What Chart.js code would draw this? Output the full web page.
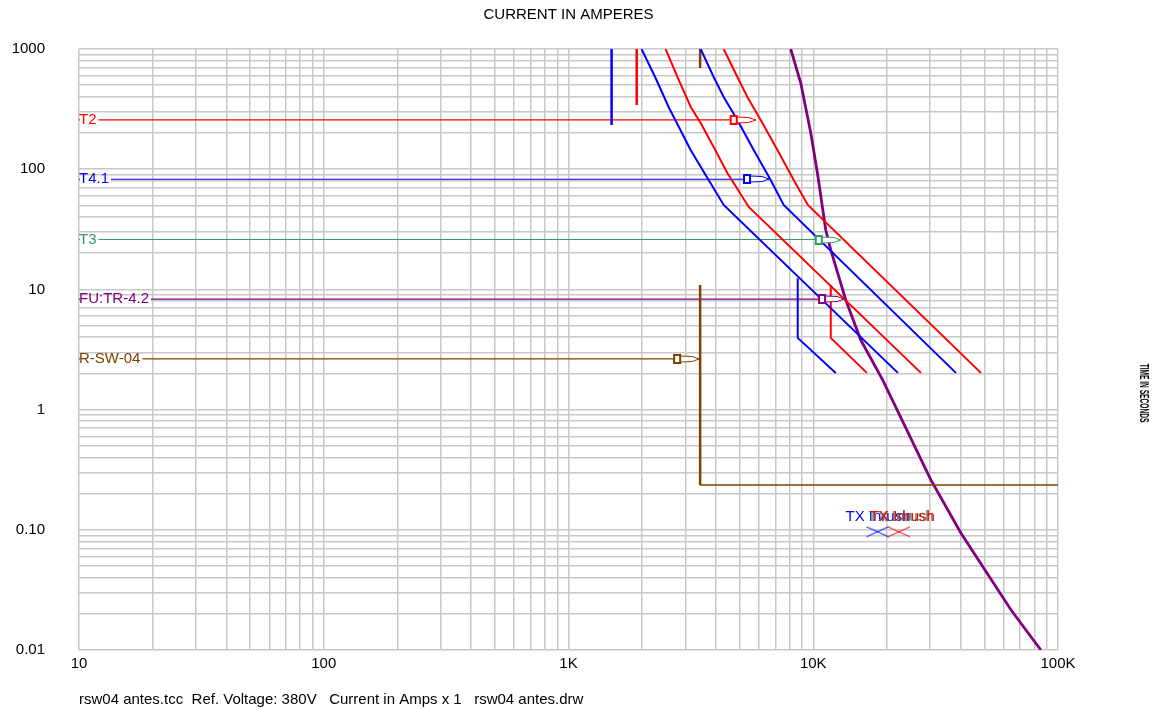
<!DOCTYPE html>
<html>
<head>
<meta charset="utf-8">
<script src="https://cdn.jsdelivr.net/npm/chart.js@4.4.1/dist/chart.umd.min.js"></script>
<style>
  body { margin: 0; background: #fff; }
</style>
</head>
<body>
<canvas id="tcc" width="1155" height="710"></canvas>
<script>
// axis ticks
const xTickVals = [10, 100, 1000, 10000, 100000];
const xTickLabels = ['10', '100', '1K', '10K', '100K'];
const yTickVals = [0.01, 0.1, 1, 10, 100, 1000];
const yTickLabels = ['0.01', '0.10', '1', '10', '100', '1000'];

// device curves: current (A) / time (s)
const b1Amps = [1989, 2269, 2565, 3155, 3845, 4305, 22170];
const b1Secs = [1000, 574, 329, 144.5, 73.9, 50.4, 2.02];
const r1Amps = [2493, 2783, 3155, 3467, 3918, 4457, 5450, 27540];
const r1Secs = [1000, 588, 331, 242, 153, 93, 48.5, 2.02];
const b2Amps = [3467, 3918, 4305, 4898, 5711, 6700, 7570, 38270];
const b2Secs = [1000, 585, 399, 257, 144.5, 81.3, 50.4, 2.02];
const r2Amps = [4305, 4898, 5380, 6100, 7140, 8320, 9500, 48420];
const r2Secs = [1000, 585, 399, 257, 144.5, 81.3, 50.4, 2.02];
const bInstAmps = [8640, 8640, 12360];
const bInstSecs = [12.4, 3.95, 2.02];
const rInstAmps = [11790, 11790, 16560];
const rInstSecs = [10.9, 3.95, 2.02];
const bTopAmps = [1500, 1500];
const bTopSecs = [1000, 233];
const rTopAmps = [1900, 1900];
const rTopSecs = [1000, 342];
const swTopAmps = [3450, 3450];
const swTopSecs = [1000, 695];
const swVertAmps = [3450, 3450];
const swVertSecs = [10.9, 0.236];
const swHorzAmps = [3450, 100000];
const swHorzSecs = [0.236, 0.236];
const fuseAmps = [8090, 8890, 9770, 10400, 11250, 11790, 13580, 15640, 19230, 30240, 40100, 64300, 85100];
const fuseSecs = [1000, 521, 200, 93, 31.2, 21.3, 8.17, 3.79, 1.76, 0.26, 0.094, 0.0215, 0.01];

// device labels with arrow tip
const labelNames = ['T2', 'T4.1', 'T3', 'FU:TR-4.2', 'R-SW-04'];
const labelSecs = [257, 82.5, 26, 8.3, 2.64];
const labelTipAmps = [5820, 6595, 12960, 13365, 3418];
const labelColors = ['#ff0000', '#0000ff', '#339966', '#800080', '#804000'];

// transformer inrush points
const inrushAmps = [18300, 22380];
const inrushSecs = [0.0964, 0.0964];

const FONT = '"Liberation Sans", Arial, sans-serif';

function pts(xs, ys) {
    return xs.map((x, i) => ({ x: x, y: ys[i] }));
}

function line(xs, ys, color, width) {
    return {
        data: pts(xs, ys),
        borderColor: color,
        borderWidth: width,
        pointRadius: 0,
        fill: false,
        tension: 0
    };
}

function makeX(color) {
    let c = document.createElement('canvas');
    c.width = 24; c.height = 12;
    let g = c.getContext('2d');
    g.strokeStyle = color;
    g.lineWidth = 1;
    g.beginPath();
    g.moveTo(1, 1); g.lineTo(23, 11);
    g.moveTo(1, 11); g.lineTo(23, 1);
    g.stroke();
    return c;
}

function gridTicks(min, max) {
    let out = [];
    for (let d = min; d < max; d *= 10) {
        for (let m = 1; m < 10; m++) out.push({ value: +(d * m).toPrecision(6) });
    }
    out.push({ value: max });
    return out;
}

function tickLabel(v, vals, labels) {
    for (let i = 0; i < vals.length; i++) {
        if (Math.abs(Math.log10(v) - Math.log10(vals[i])) < 1e-6) return labels[i];
    }
    return '';
}

let datasets = [
    line(b1Amps, b1Secs, '#0000ff', 2),
    line(r1Amps, r1Secs, '#ff0000', 2),
    line(b2Amps, b2Secs, '#0000ff', 2),
    line(r2Amps, r2Secs, '#ff0000', 2),
    line(bInstAmps, bInstSecs, '#0000ff', 2),
    line(rInstAmps, rInstSecs, '#ff0000', 2),
    line(bTopAmps, bTopSecs, '#0000ff', 2.5),
    line(rTopAmps, rTopSecs, '#ff0000', 2.5),
    line(swTopAmps, swTopSecs, '#804000', 2.5),
    line(swVertAmps, swVertSecs, '#804000', 2.5),
    line(swHorzAmps, swHorzSecs, '#804000', 1.3),
    line(fuseAmps, fuseSecs, '#800080', 2.8)
];
labelNames.forEach((n, i) => {
    datasets.push(line([10, labelTipAmps[i]], [labelSecs[i], labelSecs[i]], labelColors[i], 1.2));
});
datasets.push({ data: pts([inrushAmps[0]], [inrushSecs[0]]), showLine: false, pointStyle: makeX('#0000ff'), pointRadius: 10 });
datasets.push({ data: pts([inrushAmps[1]], [inrushSecs[1]]), showLine: false, pointStyle: makeX('#ff0000'), pointRadius: 10 });

const overlay = {
    id: 'overlay',
    afterDatasetsDraw(chart) {
        const ctx = chart.ctx, xs = chart.scales.x, ys = chart.scales.y;
        const area = chart.chartArea;
        ctx.save();
        labelNames.forEach((name, i) => {
            let tip = xs.getPixelForValue(labelTipAmps[i]);
            let y = Math.round(ys.getPixelForValue(labelSecs[i]));
            let x0 = tip - 25;
            ctx.strokeStyle = labelColors[i];
            ctx.fillStyle = '#fff';
            ctx.lineWidth = 1;
            ctx.beginPath();
            ctx.moveTo(x0 + 6, y - 3);
            ctx.lineTo(x0 + 18, y - 2.5);
            ctx.lineTo(tip, y);
            ctx.lineTo(x0 + 18, y + 2.5);
            ctx.lineTo(x0 + 6, y + 3);
            ctx.closePath();
            ctx.fill();
            ctx.stroke();
            ctx.lineWidth = 2;
            ctx.fillRect(x0, y - 4, 6, 8);
            ctx.strokeRect(x0, y - 4, 6, 8);

            ctx.font = '15px ' + FONT;
            let w = ctx.measureText(name).width;
            ctx.fillStyle = '#fff';
            ctx.fillRect(area.left + 1, y - 3, w + 1, 6);
            ctx.fillStyle = labelColors[i];
            ctx.textBaseline = 'middle';
            ctx.textAlign = 'left';
            ctx.fillText(name, area.left, y);
        });

        // inrush labels
        let bx = xs.getPixelForValue(inrushAmps[0]);
        let rx = xs.getPixelForValue(inrushAmps[1]);
        let iy = ys.getPixelForValue(inrushSecs[0]) - 11;
        ctx.font = '15px ' + FONT;
        ctx.textBaseline = 'alphabetic';
        ctx.fillStyle = '#0000ff';
        ctx.fillText('TX Inrush', bx - 32, iy);
        ctx.fillStyle = '#339966';
        ctx.fillText('TX Inrush', bx - 9, iy);
        ctx.fillStyle = '#ff0000';
        ctx.fillText('TX Inrush', rx - 29, iy);
        ctx.restore();
    },
    afterDraw(chart) {
        const ctx = chart.ctx;
        const area = chart.chartArea;
        ctx.save();
        ctx.fillStyle = '#000';
        ctx.font = '15px ' + FONT;
        ctx.textAlign = 'center';
        ctx.textBaseline = 'middle';
        ctx.fillText('CURRENT IN AMPERES', (area.left + area.right) / 2, 15);

        ctx.textAlign = 'left';
        ctx.font = '15px ' + FONT;
        ctx.fillText('rsw04 antes.tcc  Ref. Voltage: 380V   Current in Amps x 1   rsw04 antes.drw', area.left, 700);

        ctx.translate(1143, 393);
        ctx.rotate(Math.PI / 2);
        ctx.scale(0.55, 1);
        ctx.font = 'bold 12px ' + FONT;
        ctx.textAlign = 'center';
        ctx.fillText('TIME IN SECONDS', 0, 0);
        ctx.restore();
    }
};

new Chart(document.getElementById('tcc'), {
    type: 'line',
    data: { datasets: datasets },
    options: {
        responsive: false,
        animation: false,
        parsing: false,
        layout: { padding: { top: 49, right: 97, left: 0, bottom: 0 } },
        plugins: { legend: { display: false }, tooltip: { enabled: false } },
        scales: {
            x: {
                type: 'logarithmic',
                min: 10,
                max: 100000,
                afterBuildTicks: s => { s.ticks = gridTicks(10, 100000); },
                afterFit: s => { s.height = 60; },
                grid: { color: '#c8c8c8', lineWidth: 1.5, drawTicks: false },
                border: { display: false },
                ticks: {
                    autoSkip: false, maxRotation: 0, padding: 5, color: '#000',
                    font: { size: 15, family: FONT },
                    callback: v => tickLabel(v, xTickVals, xTickLabels)
                }
            },
            y: {
                type: 'logarithmic',
                min: 0.01,
                max: 1000,
                afterBuildTicks: s => { s.ticks = gridTicks(0.01, 1000); },
                afterFit: s => { s.width = 79; },
                grid: { color: '#c8c8c8', lineWidth: 1.5, drawTicks: false },
                border: { display: false },
                ticks: {
                    autoSkip: false, padding: 34, color: '#000',
                    font: { size: 15, family: FONT },
                    callback: v => tickLabel(v, yTickVals, yTickLabels)
                }
            }
        }
    },
    plugins: [overlay]
});
</script>
</body>
</html>
